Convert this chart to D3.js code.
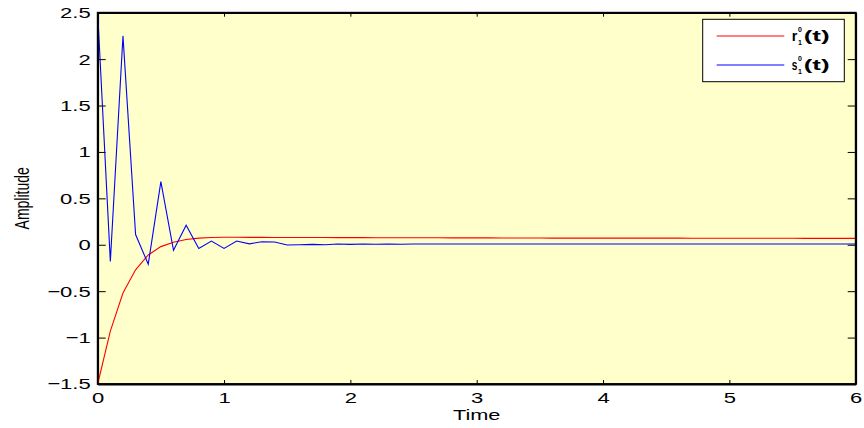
<!DOCTYPE html>
<html>
<head>
<meta charset="utf-8">
<script src="https://cdn.jsdelivr.net/npm/d3@7"></script>
<style>
  body { margin: 0; background: #fff; }
  svg { display: block; }
  text { font-family: "Liberation Sans", Arial, sans-serif; }
</style>
</head>
<body>
<svg id="chart"></svg>
<script>
var timeData = [0, 0.1, 0.2, 0.3, 0.4, 0.5, 0.6, 0.7, 0.8, 0.9,
	1, 1.1, 1.2, 1.3, 1.4, 1.5, 1.6, 1.7, 1.8, 1.9,
	2, 2.1, 2.2, 2.3, 2.4, 2.5, 2.6, 2.7, 2.8, 2.9,
	3, 3.1, 3.2, 3.3, 3.4, 3.5, 3.6, 3.7, 3.8, 3.9,
	4, 4.1, 4.2, 4.3, 4.4, 4.5, 4.6, 4.7, 4.8, 4.9,
	5, 5.1, 5.2, 5.3, 5.4, 5.5, 5.6, 5.7, 5.8, 5.9, 6];

// r1^0(t)
var rData = [-1.5, -0.93, -0.52, -0.27, -0.11, -0.02, 0.027, 0.056, 0.072, 0.079,
	0.081, 0.081, 0.08, 0.08, 0.079, 0.079, 0.078, 0.078, 0.078, 0.077,
	0.077, 0.077, 0.076, 0.076, 0.076, 0.075, 0.075, 0.075, 0.074, 0.074,
	0.074, 0.074, 0.073, 0.073, 0.073, 0.073, 0.072, 0.072, 0.072, 0.072,
	0.072, 0.071, 0.071, 0.071, 0.071, 0.071, 0.071, 0.07, 0.07, 0.07,
	0.07, 0.07, 0.07, 0.07, 0.07, 0.07, 0.069, 0.069, 0.069, 0.069, 0.069];

// s1^0(t)
var sData = [2.5, -0.18, 2.25, 0.11, -0.21, 0.68, -0.06, 0.21, -0.04, 0.04,
	-0.04, 0.04, 0.01, 0.033, 0.03, -0.003, 0.0, 0.004, 0.0, 0.008,
	0.004, 0.008, 0.005, 0.009, 0.006, 0.008, 0.008, 0.008, 0.008, 0.008,
	0.008, 0.008, 0.008, 0.008, 0.008, 0.008, 0.008, 0.008, 0.008, 0.008,
	0.008, 0.008, 0.008, 0.008, 0.008, 0.008, 0.008, 0.008, 0.008, 0.008,
	0.008, 0.008, 0.008, 0.008, 0.008, 0.008, 0.008, 0.008, 0.008, 0.008, 0.008];

var xTicks = [0, 1, 2, 3, 4, 5, 6];
var yTicks = [-1.5, -1, -0.5, 0, 0.5, 1, 1.5, 2, 2.5];

var width = 864, height = 428;
var margin = {left: 97.7, right: 8.3, top: 12.7, bottom: 44};
var plotW = width - margin.left - margin.right;
var plotH = height - margin.top - margin.bottom;

// the original picture is stretched sideways, so text is widened to match
var stretch = 1.42;
function widen(sel, k) {
	sel.each(function() {
		var w = this.getComputedTextLength();
		d3.select(this).attr("textLength", w * k).attr("lengthAdjust", "spacingAndGlyphs");
	});
}

var svg = d3.select("#chart")
	.attr("width", width)
	.attr("height", height);

var g = svg.append("g")
	.attr("transform", "translate(" + margin.left + "," + margin.top + ")");

var xScale = d3.scaleLinear().domain([0, 6]).range([0, plotW]);
var yScale = d3.scaleLinear().domain([-1.5, 2.5]).range([plotH, 0]);

// plot background
g.append("rect")
	.attr("width", plotW)
	.attr("height", plotH)
	.attr("fill", "#ffffcc");

var fmt = function(d) { return (d < 0 ? "\u2212" : "") + Math.abs(d); };

// axes (ticks pointing inward, box on all sides)
var xAxis = d3.axisBottom(xScale).tickValues(xTicks).tickFormat(fmt)
	.tickSizeInner(-4).tickSizeOuter(0).tickPadding(8);
var yAxis = d3.axisLeft(yScale).tickValues(yTicks).tickFormat(fmt)
	.tickSizeInner(-8).tickSizeOuter(0).tickPadding(7);

var gx = g.append("g").attr("transform", "translate(0," + plotH + ")").call(xAxis);
var gy = g.append("g").call(yAxis);
g.append("g").call(d3.axisTop(xScale).tickValues(xTicks).tickFormat("")
	.tickSizeInner(-4).tickSizeOuter(0));
g.append("g").attr("transform", "translate(" + plotW + ",0)")
	.call(d3.axisRight(yScale).tickValues(yTicks).tickFormat("")
	.tickSizeInner(-8).tickSizeOuter(0));

g.selectAll(".domain").attr("stroke", "#000").attr("stroke-width", 1.8);
g.selectAll(".tick line").attr("stroke", "#000").attr("stroke-width", 1);
g.selectAll(".tick text").attr("fill", "#000").style("font-size", "15.5px");
widen(g.selectAll(".tick text"), stretch);

// lines
var line = function(vals) {
	return d3.line()
		.x(function(d, i) { return xScale(timeData[i]); })
		.y(function(d) { return yScale(d); })(vals);
};

g.append("path").attr("d", line(rData))
	.attr("fill", "none").attr("stroke", "#ff0000").attr("stroke-width", 1.1);
g.append("path").attr("d", line(sData))
	.attr("fill", "none").attr("stroke", "#0000ff").attr("stroke-width", 1.1);

// redraw box on top
g.append("rect")
	.attr("width", plotW).attr("height", plotH)
	.attr("fill", "none").attr("stroke", "#000").attr("stroke-width", 1.8);

// axis titles
var xTitle = svg.append("text")
	.attr("x", margin.left + plotW / 2)
	.attr("y", 420)
	.attr("text-anchor", "middle")
	.style("font-size", "14.5px")
	.text("Time");
widen(xTitle, 1.5);

svg.append("text")
	.attr("transform", "translate(28.5," + (margin.top + plotH / 2) + ")rotate(-90)scale(1,1.4)")
	.attr("text-anchor", "middle")
	.style("font-size", "14px")
	.text("Amplitude");

// legend
var legend = svg.append("g").attr("transform", "translate(702.7,19.3)");
legend.append("rect")
	.attr("width", 141.6).attr("height", 62.4)
	.attr("fill", "#fff").attr("stroke", "#000").attr("stroke-width", 1);

var entries = [
	{name: "r", color: "#ff0000"},
	{name: "s", color: "#0000ff"}
];

entries.forEach(function(e, i) {
	var yy = 16.7 + i * 29;
	legend.append("line")
		.attr("x1", 14).attr("x2", 81.6)
		.attr("y1", yy).attr("y2", yy)
		.attr("stroke", e.color).attr("stroke-width", 1);
	var letter = legend.append("text")
		.style("font-size", "15px").style("font-weight", "bold")
		.text(e.name);
	var k = 5.6 / letter.node().getComputedTextLength();
	letter.attr("transform", "translate(89," + (yy + 5) + ")scale(" + k + ",1)");
	// superscript and subscript stacked after the letter
	legend.append("text")
		.attr("x", 95.4).attr("y", yy - 3.5)
		.style("font-size", "7px").style("font-weight", "bold")
		.text("0");
	legend.append("text")
		.attr("x", 95.4).attr("y", yy + 9)
		.style("font-size", "7px").style("font-weight", "bold")
		.text("1");
	legend.append("text")
		.attr("x", 101).attr("y", yy + 5)
		.attr("textLength", 26).attr("lengthAdjust", "spacingAndGlyphs")
		.style("font-size", "15px").style("font-weight", "bold")
		.text("(t)");
});
</script>
</body>
</html>
